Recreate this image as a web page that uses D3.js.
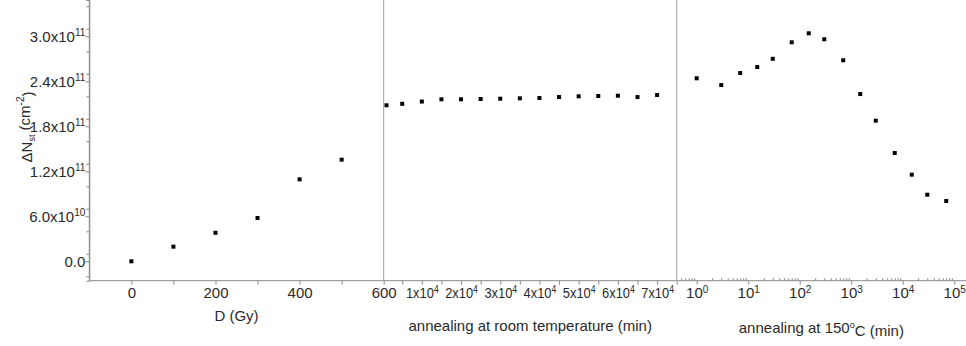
<!DOCTYPE html>
<html><head><meta charset="utf-8">
<script src="https://cdn.jsdelivr.net/npm/d3@7"></script>
<style>
html,body{margin:0;padding:0;background:#fff;}
svg{display:block;font-family:"Liberation Sans",Arial,sans-serif;}
</style></head>
<body>
<svg id="c" width="966" height="346"></svg>
<script>
// ---- data ----
const doseX = [0, 100, 200, 300, 400, 500];
const doseY = [0, 1.95e10, 3.8e10, 5.77e10, 1.093e11, 1.355e11];

const rtX = [1000, 5000, 10000, 15000, 20000, 25000, 30000, 35000, 40000, 45000, 50000, 55000, 60000, 65000, 70000];
const rtY = [2.08e11, 2.10e11, 2.13e11, 2.16e11, 2.16e11, 2.164e11, 2.168e11, 2.173e11, 2.177e11, 2.19e11, 2.20e11, 2.204e11, 2.208e11, 2.19e11, 2.217e11];

const htX = [1, 3, 7, 15, 30, 70, 150, 300, 700, 1500, 3000, 7000, 15000, 30000, 70000];
const htY = [2.44e11, 2.35e11, 2.51e11, 2.59e11, 2.70e11, 2.92e11, 3.04e11, 2.96e11, 2.68e11, 2.23e11, 1.875e11, 1.444e11, 1.155e11, 8.88e10, 8.04e10];

const yTickValues = [0, 6e10, 1.2e11, 1.8e11, 2.4e11, 3.0e11];
const yTickMant = ["0.0", "6.0", "1.2", "1.8", "2.4", "3.0"];
const yTickExp = ["", "10", "11", "11", "11", "11"];

const doseTicks = [0, 200, 400, 600];
const rtTicks = [10000, 20000, 30000, 40000, 50000, 60000, 70000];
const rtTickMant = ["1", "2", "3", "4", "5", "6", "7"];
const htTicks = [1, 10, 100, 1000, 10000, 100000];
const htTickExp = ["0", "1", "2", "3", "4", "5"];

// ---- layout ----
const svg = d3.select("#c");
const axisColor = "#8a8a8a", textColor = "#2a2a2a";
const left = 89.3, bottom = 280.7, sep1 = 383.7, sep2 = 676.7, right = 966;

const y = d3.scaleLinear().domain([-2.587e10, 3.484e11]).range([bottom, 0]);
const x1 = d3.scaleLinear().domain([-100, 600]).range([left, sep1]);
const x2 = d3.scaleLinear().domain([0, 75000]).range([382.6, sep2]);
const x3 = d3.scaleLog().domain([Math.pow(10, -0.388), Math.pow(10, 5.229)]).range([sep2, right]);

function styleAxis(g) {
  g.selectAll("path.domain").attr("stroke", axisColor).attr("stroke-width", 1);
  g.selectAll(".tick line").attr("stroke", axisColor);
  g.selectAll("text").attr("fill", textColor).style("font-size", "15px")
    .style("font-family", '"Liberation Sans",Arial,sans-serif');
}

// y axis
const yMinor = d3.range(-2e10, 3.5e11, 3e10).filter(v => !yTickValues.some(t => Math.abs(t - v) < 1));
svg.append("g").attr("transform", `translate(${left},0)`)
  .call(d3.axisLeft(y).tickValues(yMinor).tickSize(3).tickFormat(""))
  .call(styleAxis);
const gy = svg.append("g").attr("transform", `translate(${left},0)`)
  .call(d3.axisLeft(y).tickValues(yTickValues).tickSize(4).tickPadding(4).tickFormat(""))
  .call(styleAxis);
gy.selectAll(".tick").each(function(d, i) {
  const t = d3.select(this).append("text").attr("x", -4).attr("dy", "0.36em")
    .attr("text-anchor", "end").attr("fill", textColor).style("font-size", "15px");
  t.append("tspan").text(yTickMant[i] + (yTickExp[i] ? "x10" : ""));
  if (yTickExp[i]) t.append("tspan").attr("dy", "-0.6em").style("font-size", "10px").text(yTickExp[i]);
});
gy.select("path.domain").attr("d", `M0,${bottom}V0`);

// bottom axis line
svg.append("line").attr("x1", left).attr("x2", right).attr("y1", bottom).attr("y2", bottom)
  .attr("stroke", axisColor);

// separators
[sep1, sep2].forEach(sx => svg.append("line").attr("x1", sx).attr("x2", sx).attr("y1", 0).attr("y2", bottom)
  .attr("stroke", "#a0a0a0"));

// panel 1 x axis
const gx1 = svg.append("g").attr("transform", `translate(0,${bottom})`)
  .call(d3.axisBottom(x1).tickValues([0, 100, 200, 300, 400, 500, 600]).tickSize(4).tickPadding(3)
    .tickFormat(d => doseTicks.includes(d) ? String(d) : ""))
  .call(styleAxis);
gx1.select("path.domain").remove();

// panel 2 x axis
const gx2 = svg.append("g").attr("transform", `translate(0,${bottom})`)
  .call(d3.axisBottom(x2).tickValues(d3.range(5000, 75001, 5000)).tickSize(4).tickFormat(""))
  .call(styleAxis);
gx2.select("path.domain").remove();
gx2.selectAll(".tick").filter(d => rtTicks.includes(d)).each(function(d) {
  const i = rtTicks.indexOf(d);
  const t = d3.select(this).append("text").attr("y", 7).attr("dy", "0.71em")
    .attr("text-anchor", "middle").attr("fill", textColor).style("font-size", "15px")
    .attr("transform", "scale(0.86,1)");
  t.append("tspan").text(rtTickMant[i] + "x10");
  t.append("tspan").attr("dy", "-0.55em").style("font-size", "10px").text("4");
});

// panel 3 x axis (log)
const minorLog = [];
for (let e = -1; e <= 5; e++) for (let m = 2; m <= 9; m++) {
  const v = m * Math.pow(10, e);
  if (x3(v) > sep2 + 0.5 && x3(v) < right) minorLog.push(v);
}
const gx3m = svg.append("g").attr("transform", `translate(0,${bottom})`)
  .call(d3.axisTop(x3).tickValues(minorLog).tickSize(2.5).tickFormat(""))
  .call(styleAxis);
gx3m.select("path.domain").remove();
const gx3 = svg.append("g").attr("transform", `translate(0,${bottom})`)
  .call(d3.axisBottom(x3).tickValues(htTicks).tickSize(4).tickFormat(""))
  .call(styleAxis);
gx3.select("path.domain").remove();
gx3.selectAll(".tick").each(function(d, i) {
  const t = d3.select(this).append("text").attr("y", 7).attr("dy", "0.71em")
    .attr("text-anchor", "middle").attr("fill", textColor).style("font-size", "15px");
  t.append("tspan").text("10");
  t.append("tspan").attr("dy", "-0.55em").style("font-size", "10px").text(htTickExp[i]);
});

// points
const sz = 4;
function drawPts(xs, ys, xs_) {
  svg.append("g").selectAll("rect").data(xs.map((v, i) => [v, ys[i]])).join("rect")
    .attr("x", d => xs_(d[0]) - sz / 2).attr("y", d => y(d[1]) - sz / 2)
    .attr("width", sz).attr("height", sz).attr("fill", "#000");
}
drawPts(doseX, doseY, x1);
drawPts(rtX, rtY, x2);
drawPts(htX, htY, x3);

// axis titles
function title(txt, cx, by) {
  return svg.append("text").attr("x", cx).attr("y", by).attr("text-anchor", "middle")
    .attr("fill", textColor).style("font-size", "15px").text(txt);
}
title("D (Gy)", (left + sep1) / 2, 321);
title("annealing at room temperature (min)", (sep1 + sep2) / 2, 331);
const t3 = svg.append("text").attr("x", (sep2 + right) / 2).attr("y", 333).attr("text-anchor", "middle")
  .attr("fill", textColor).style("font-size", "15px");
t3.append("tspan").text("annealing at 150");
t3.append("tspan").attr("dy", "-0.55em").style("font-size", "9px").text("o");
t3.append("tspan").attr("dy", "0.55em").text("C (min)");

const yt = svg.append("text").attr("transform", "translate(32,127) rotate(-90)")
  .attr("text-anchor", "middle").attr("fill", textColor).style("font-size", "15px");
yt.append("tspan").text("ΔN");
yt.append("tspan").attr("dy", "0.35em").style("font-size", "9px").text("st");
yt.append("tspan").attr("dy", "-0.35em").text(" (cm");
yt.append("tspan").attr("dy", "-0.55em").style("font-size", "10px").text("-2");
yt.append("tspan").attr("dy", "0.55em").text(")");
</script>
</body></html>
